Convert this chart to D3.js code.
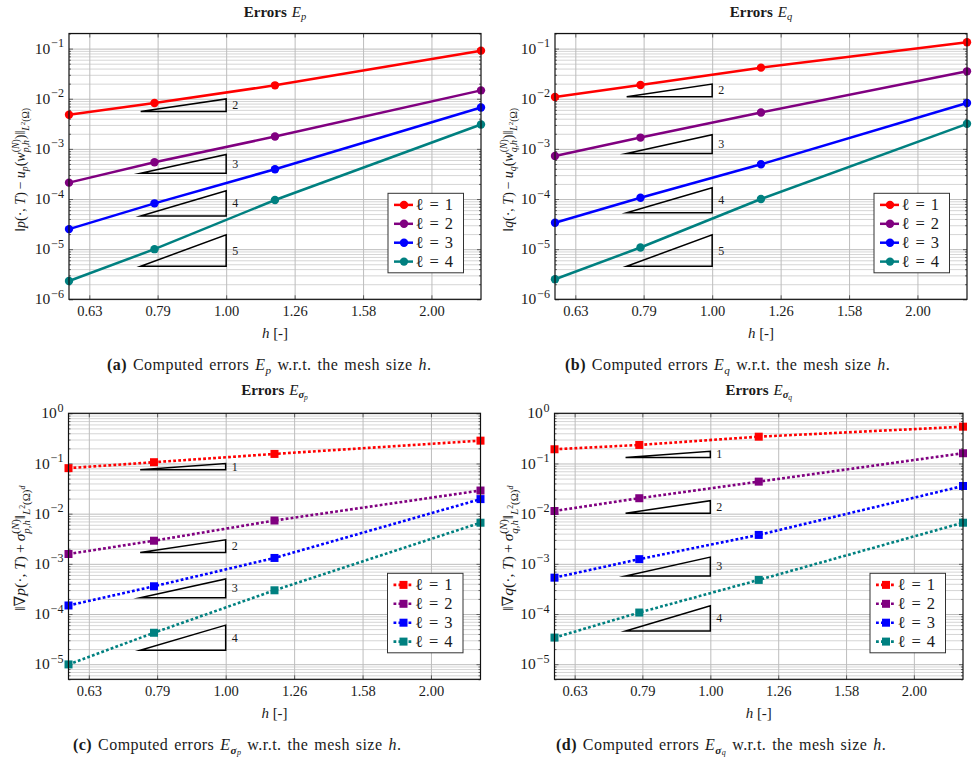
<!DOCTYPE html>
<html>
<head>
<meta charset="utf-8">
<script src="https://cdn.jsdelivr.net/npm/d3@7"></script>
<style>
  body { margin: 0; background: #fff; }
  svg { display: block; }
  text { font-family: "Liberation Serif", "DejaVu Serif", serif; fill: #1a1a1a; white-space: pre; }
</style>
</head>
<body>
<svg width="978" height="777"></svg>
<script>
// mesh sizes h (same for all four panels)
var hVals = [0.5893, 0.7857, 1.1785, 2.357];
var xTicks = [0.631, 0.794, 1.0, 1.259, 1.585, 1.995];
var xTickLabels = ["0.63", "0.79", "1.00", "1.26", "1.58", "2.00"];
var levels = ["1", "2", "3", "4"];
var colors = ["#ff0000", "#800080", "#0000ff", "#008080"];

// (a) errors E_p
var epL1 = [4.79e-3, 8.2e-3, 1.85e-2, 9.1e-2];
var epL2 = [2.12e-4, 5.42e-4, 1.76e-3, 1.47e-2];
var epL3 = [2.51e-5, 8.2e-5, 3.93e-4, 6.7e-3];
var epL4 = [2.32e-6, 1.0e-5, 9.55e-5, 3.06e-3];

// (b) errors E_q
var eqL1 = [1.08e-2, 1.88e-2, 4.17e-2, 1.34e-1];
var eqL2 = [7.24e-4, 1.68e-3, 5.32e-3, 3.52e-2];
var eqL3 = [3.36e-5, 1.06e-4, 4.94e-4, 8.2e-3];
var eqL4 = [2.51e-6, 1.08e-5, 1.0e-4, 3.16e-3];

// (c) errors E_sigma_p
var espL1 = [8.07e-2, 1.06e-1, 1.55e-1, 2.85e-1];
var espL2 = [1.57e-3, 2.89e-3, 7.3e-3, 2.89e-2];
var espL3 = [1.48e-4, 3.57e-4, 1.31e-3, 1.95e-2];
var espL4 = [9.9e-6, 4.23e-5, 2.97e-4, 6.6e-3];

// (d) errors E_sigma_q
var esqL1 = [1.92e-1, 2.34e-1, 3.42e-1, 5.41e-1];
var esqL2 = [1.13e-2, 2.03e-2, 4.35e-2, 1.6e-1];
var esqL3 = [5.3e-4, 1.24e-3, 3.77e-3, 3.56e-2];
var esqL4 = [3.39e-5, 1.07e-4, 4.78e-4, 6.6e-3];

// slope triangles: h from 0.75 to 1, base value, slope
var triX = [0.75, 1.0];
var triSlopesPQ = [2, 3, 4, 5];
var triBaseP = [5.57e-3, 3.27e-4, 4.6e-5, 4.57e-6];
var triBaseQ = [1.1e-2, 8.1e-4, 5.3e-5, 4.57e-6];
var triSlopesSig = [1, 2, 3, 4];
var triBaseSp = [7.46e-2, 1.69e-3, 2.1e-4, 1.9e-5];
var triBaseSq = [1.31e-1, 1.02e-2, 5.75e-4, 4.6e-5];

var svg = d3.select("svg");

// lay out a little "math" string piece by piece
function rich(g, parts, size, ls) {
  var x = 0, saved = 0, far = 0;
  parts.forEach(function(p) {
    if (p.save) { saved = x; far = x; return; }
    if (p.back) { far = Math.max(far, x); x = saved; return; }
    if (p.end) { x = Math.max(far, x); return; }
    var t = g.append("text")
        .attr("x", x)
        .attr("y", -(p.v || 0) * size)
        .style("font-size", (size * (p.s || 1)) + "px")
        .text(p.t);
    if (ls) t.style("letter-spacing", ls[0] + "px").style("word-spacing", ls[1] + "px");
    if (p.i) t.style("font-style", "italic");
    if (p.b) t.style("font-weight", "bold");
    x += t.node().getComputedTextLength() + (p.k || 0);
  });
  return x;
}

function place(parts, size, cx, cy, anchor, rot, ls) {
  var outer = svg.append("g");
  var inner = outer.append("g");
  var w = rich(inner, parts, size, ls);
  var dx = anchor == "middle" ? -w / 2 : (anchor == "end" ? -w : 0);
  inner.attr("transform", "translate(" + dx + "," + (0.33 * size) + ")");
  outer.attr("transform", "translate(" + cx + "," + cy + ")" + (rot ? " rotate(" + rot + ")" : ""));
  return w;
}

var SUB = -0.22, SUBB = -0.3, SUP = 0.42, SS = 0.7;

var labelNorm = {
  p: [{t: "‖"}, {t: "p", i: 1}, {t: "(·, "}, {t: "T", i: 1}, {t: ")", k: 3}, {t: "−", k: 3}, {t: "u", i: 1},
      {t: "p", i: 1, s: SS, v: SUB}, {t: "("}, {t: "w", i: 1},
      {save: 1}, {t: "(", s: SS, v: SUP}, {t: "N", s: SS, v: SUP, i: 1}, {t: ")", s: SS, v: SUP},
      {back: 1}, {t: "p,h", s: SS, v: SUBB, i: 1}, {end: 1},
      {t: ")‖"}, {t: "L", s: SS, v: SUBB, i: 1}, {t: "2", s: 0.5, v: 0.0}, {t: "(Ω)", s: SS, v: SUBB}],
  q: [{t: "‖"}, {t: "q", i: 1}, {t: "(·, "}, {t: "T", i: 1}, {t: ")", k: 3}, {t: "−", k: 3}, {t: "u", i: 1},
      {t: "q", i: 1, s: SS, v: SUB}, {t: "("}, {t: "w", i: 1},
      {save: 1}, {t: "(", s: SS, v: SUP}, {t: "N", s: SS, v: SUP, i: 1}, {t: ")", s: SS, v: SUP},
      {back: 1}, {t: "q,h", s: SS, v: SUBB, i: 1}, {end: 1},
      {t: ")‖"}, {t: "L", s: SS, v: SUBB, i: 1}, {t: "2", s: 0.5, v: 0.0}, {t: "(Ω)", s: SS, v: SUBB}],
  sp: [{t: "‖∇"}, {t: "p", i: 1}, {t: "(·, "}, {t: "T", i: 1}, {t: ")", k: 3}, {t: "+", k: 3}, {t: "σ", i: 1},
      {save: 1}, {t: "(", s: SS, v: SUP}, {t: "N", s: SS, v: SUP, i: 1}, {t: ")", s: SS, v: SUP},
      {back: 1}, {t: "p,h", s: SS, v: SUBB, i: 1}, {end: 1},
      {t: "‖"}, {t: "L", s: SS, v: SUBB, i: 1}, {t: "2", s: 0.5, v: 0.0}, {t: "(Ω)", s: SS, v: SUBB},
      {t: "d", s: 0.5, v: 0.0, i: 1}],
  sq: [{t: "‖∇"}, {t: "q", i: 1}, {t: "(·, "}, {t: "T", i: 1}, {t: ")", k: 3}, {t: "+", k: 3}, {t: "σ", i: 1},
      {save: 1}, {t: "(", s: SS, v: SUP}, {t: "N", s: SS, v: SUP, i: 1}, {t: ")", s: SS, v: SUP},
      {back: 1}, {t: "q,h", s: SS, v: SUBB, i: 1}, {end: 1},
      {t: "‖"}, {t: "L", s: SS, v: SUBB, i: 1}, {t: "2", s: 0.5, v: 0.0}, {t: "(Ω)", s: SS, v: SUBB},
      {t: "d", s: 0.5, v: 0.0, i: 1}]
};

function errName(letter, sigma) {
  if (!sigma) return [{t: "E", i: 1}, {t: letter, i: 1, s: SS, v: SUB}];
  return [{t: "E", i: 1}, {t: "σ", i: 1, b: 1, s: SS, v: SUB}, {t: letter, i: 1, s: 0.5, v: -0.32}];
}

var panels = [
  {tag: "a", x0: 69, x1: 481, y0: 33.5, y1: 299.3, yDom: [1e-6, 0.2], series: [epL1, epL2, epL3, epL4],
   dotted: false, triS: triSlopesPQ, triB: triBaseP, name: errName("p", false), ylab: labelNorm.p,
   ylx: 20, yls: 14, ylOff: 3.5, capX: 107, capY: 365, titleY: 12},
  {tag: "b", x0: 555, x1: 967, y0: 33.5, y1: 299.3, yDom: [1e-6, 0.2], series: [eqL1, eqL2, eqL3, eqL4],
   dotted: false, triS: triSlopesPQ, triB: triBaseQ, name: errName("q", false), ylab: labelNorm.q,
   ylx: 508, yls: 14, ylOff: 3.5, capX: 565, capY: 365, titleY: 12},
  {tag: "c", x0: 68.5, x1: 480.5, y0: 413.3, y1: 679.3, yDom: [5e-6, 1], series: [espL1, espL2, espL3, espL4],
   dotted: true, triS: triSlopesSig, triB: triBaseSp, name: errName("p", true), ylab: labelNorm.sp,
   ylx: 20, yls: 15.5, ylOff: 2, capX: 73, capY: 745, titleY: 390},
  {tag: "d", x0: 554.5, x1: 963, y0: 413.3, y1: 679.3, yDom: [5e-6, 1], series: [esqL1, esqL2, esqL3, esqL4],
   dotted: true, triS: triSlopesSig, triB: triBaseSq, name: errName("q", true), ylab: labelNorm.sq,
   ylx: 508, yls: 15.5, ylOff: 2, capX: 556, capY: 745, titleY: 390}
];

function drawPanel(p) {
  var x = d3.scaleLog().domain([hVals[0], hVals[hVals.length - 1]]).range([p.x0, p.x1]);
  var y = d3.scaleLog().domain(p.yDom).range([p.y1, p.y0]);
  var w = p.x1 - p.x0, h = p.y1 - p.y0;
  var g = svg.append("g");

  var major = [], minor = [];
  for (var k = -7; k <= 0; k++) {
    for (var m = 1; m < 10; m++) {
      var v = m * Math.pow(10, k);
      if (v < p.yDom[0] * 0.999 || v > p.yDom[1] * 1.001) continue;
      (m == 1 ? major : minor).push(v);
    }
  }

  // grid
  var gMinor = g.append("g").attr("transform", "translate(" + p.x0 + ",0)")
      .call(d3.axisLeft(y).tickValues(minor).tickSize(-w).tickFormat(""));
  gMinor.select(".domain").remove();
  gMinor.selectAll("line").attr("stroke", "#d0d0d0").attr("stroke-width", 0.9);

  var gMajor = g.append("g").attr("transform", "translate(" + p.x0 + ",0)")
      .call(d3.axisLeft(y).tickValues(major).tickSize(-w).tickFormat(""));
  gMajor.select(".domain").remove();
  gMajor.selectAll("line").attr("stroke", "#bdbdbd").attr("stroke-width", 1);

  var gVert = g.append("g").attr("transform", "translate(0," + p.y1 + ")")
      .call(d3.axisBottom(x).tickValues(xTicks).tickSize(-h).tickFormat(""));
  gVert.select(".domain").remove();
  gVert.selectAll("line").attr("stroke", "#bdbdbd").attr("stroke-width", 1);

  // inward tick marks on all four sides
  [[d3.axisLeft, p.x0, major, 4], [d3.axisRight, p.x1, major, 4],
   [d3.axisLeft, p.x0, minor, 2], [d3.axisRight, p.x1, minor, 2]].forEach(function(a) {
    var t = g.append("g").attr("transform", "translate(" + a[1] + ",0)")
        .call(a[0](y).tickValues(a[2]).tickSize(-a[3]).tickFormat(""));
    t.select(".domain").remove();
    t.selectAll("line").attr("stroke", "#444").attr("stroke-width", 0.8);
  });
  var tTop = g.append("g").attr("transform", "translate(0," + p.y0 + ")")
      .call(d3.axisTop(x).tickValues(xTicks).tickSize(-4).tickFormat(""));
  tTop.select(".domain").remove();
  tTop.selectAll("line").attr("stroke", "#444").attr("stroke-width", 0.8);

  var xAx = g.append("g").attr("transform", "translate(0," + p.y1 + ")")
      .call(d3.axisBottom(x).tickValues(xTicks).tickSize(-4).tickPadding(6)
        .tickFormat(function(d, i) { return xTickLabels[i]; }));
  xAx.select(".domain").remove();
  xAx.selectAll("line").attr("stroke", "#444").attr("stroke-width", 0.8);
  xAx.selectAll("text").style("font-size", "14.5px").attr("fill", "#1a1a1a")
      .style("font-family", "'Liberation Serif', serif");

  // slope triangles
  p.triS.forEach(function(s, i) {
    var b = p.triB[i];
    var top = b * Math.pow(triX[1] / triX[0], s);
    var pts = [[triX[0], b], [triX[1], b], [triX[1], top]];
    g.append("path")
        .attr("d", "M" + pts.map(function(d) { return x(d[0]) + "," + y(d[1]); }).join("L") + "Z")
        .attr("fill", "none").attr("stroke", "#000").attr("stroke-width", 1.5)
        .attr("stroke-linejoin", "miter").attr("stroke-miterlimit", 10);
    g.append("text").attr("x", x(triX[1]) + 6).attr("y", (y(b) + y(top)) / 2 + 4)
        .style("font-size", "12px").text(s);
  });

  // series
  var line = d3.line().x(function(d) { return x(d[0]); }).y(function(d) { return y(d[1]); });
  p.series.forEach(function(vals, i) {
    var data = hVals.map(function(hv, j) { return [hv, vals[j]]; });
    g.append("path").datum(data).attr("d", line)
        .attr("fill", "none").attr("stroke", colors[i])
        .attr("stroke-width", p.dotted ? 2.6 : 2.5)
        .attr("stroke-dasharray", p.dotted ? "2.8,2.2" : null);
    if (p.dotted) {
      g.selectAll(null).data(data).enter().append("rect")
          .attr("x", function(d) { return x(d[0]) - 4; })
          .attr("y", function(d) { return y(d[1]) - 4; })
          .attr("width", 8).attr("height", 8).attr("fill", colors[i]);
    } else {
      g.selectAll(null).data(data).enter().append("circle")
          .attr("cx", function(d) { return x(d[0]); })
          .attr("cy", function(d) { return y(d[1]); })
          .attr("r", 4.2).attr("fill", colors[i]);
    }
  });

  // frame
  g.append("rect").attr("x", p.x0).attr("y", p.y0).attr("width", w).attr("height", h)
      .attr("fill", "none").attr("stroke", "#111").attr("stroke-width", 1.2);

  // y tick labels 10^k
  major.forEach(function(v) {
    var e = Math.round(Math.log10(v));
    var parts = [{t: "10", k: 0.8}];
    parts.push({t: e != 0 ? "−" + (-e) : "0", s: 0.78, v: 0.42});
    place(parts, 15.5, p.x0 - 5, y(v), "end");
  });

  // legend
  var bw = 75.5, bh = 79.5;
  var bx = p.x1 - 17.5 - bw, by = p.y1 - 26.5 - bh;
  g.append("rect").attr("x", bx).attr("y", by).attr("width", bw).attr("height", bh)
      .attr("fill", "#fff").attr("stroke", "#333").attr("stroke-width", 1);
  levels.forEach(function(l, i) {
    var ry = by + 11.6 + i * 18.9;
    g.append("line").attr("x1", bx + 6).attr("x2", bx + 25).attr("y1", ry).attr("y2", ry)
        .attr("stroke", colors[i]).attr("stroke-width", p.dotted ? 2.6 : 2.5)
        .attr("stroke-dasharray", p.dotted ? "2.8,2.2" : null);
    if (p.dotted) {
      g.append("rect").attr("x", bx + 12).attr("y", ry - 4).attr("width", 8).attr("height", 8)
          .attr("fill", colors[i]);
    } else {
      g.append("circle").attr("cx", bx + 16).attr("cy", ry).attr("r", 4.2).attr("fill", colors[i]);
    }
    place([{t: "ℓ", k: 6}, {t: "=", k: 6}, {t: l}], 16.5, bx + 27.5, ry, "start");
  });

  // title, axis labels, caption
  place([{t: "Errors", b: 1, k: 5}].concat(p.name), 15, (p.x0 + p.x1) / 2, p.titleY, "middle");
  place([{t: "h", i: 1}, {t: " [-]"}], 15, (p.x0 + p.x1) / 2, p.y1 + 34, "middle");
  place(p.ylab, p.yls, p.ylx, (p.y0 + p.y1) / 2 + p.ylOff, "middle", -90);
  place([{t: "(" + p.tag + ")", b: 1}, {t: " Computed errors "}].concat(p.name)
      .concat([{t: " w.r.t. the mesh size "}, {t: "h", i: 1}, {t: "."}]), 16, p.capX, p.capY, "start",
      0, [0.45, 1.5]);
}

panels.forEach(drawPanel);
</script>
</body>
</html>
